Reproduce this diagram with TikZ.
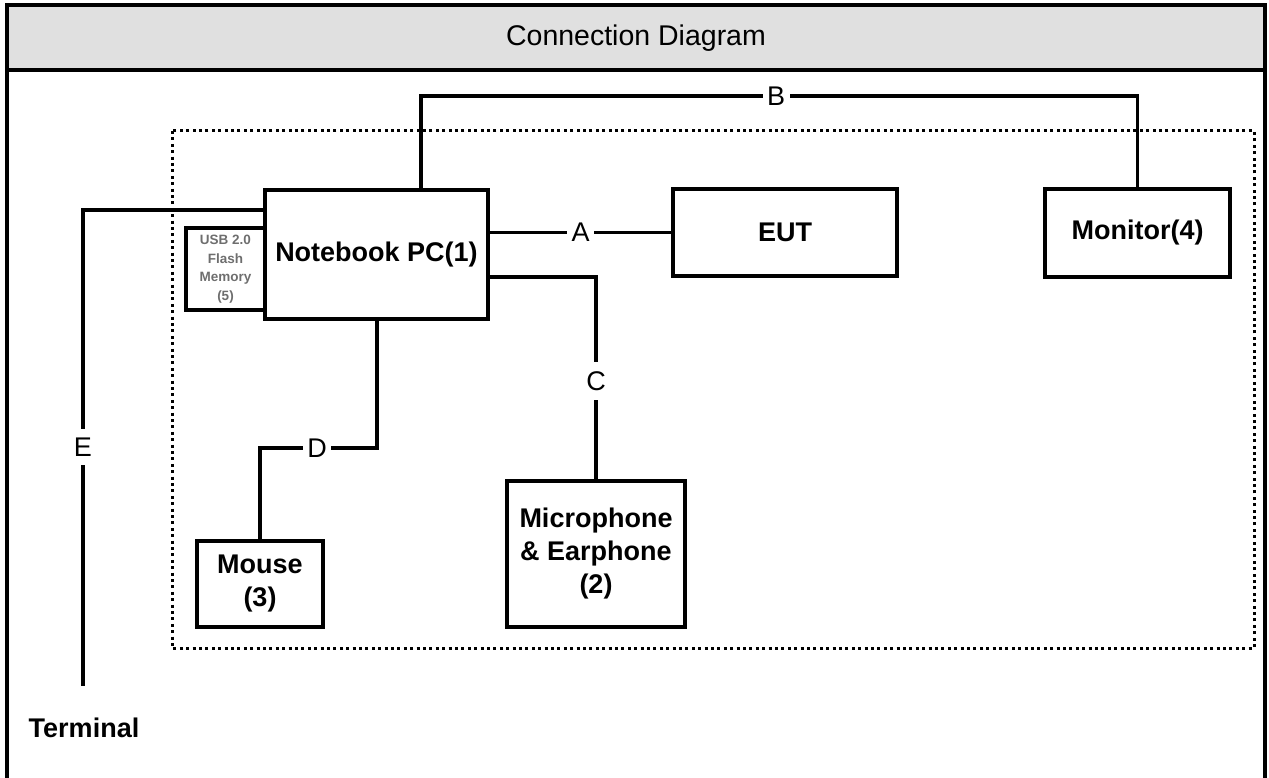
\documentclass[tikz,border=0pt]{standalone}
\usepackage{fontspec}
\setmainfont{Liberation Sans}
\definecolor{headgray}{HTML}{E0E0E0}
\definecolor{usbgray}{HTML}{6E6E6E}
\begin{document}
\begin{tikzpicture}[x=1pt,y=-1pt,
  devbox/.style={draw, line width=3.3pt, inner sep=0pt, align=center,
    font=\fontsize{27}{33}\selectfont\bfseries},
  wire/.style={line width=3.2pt},
  lbl/.style={fill=white, inner xsep=4.5pt, inner ysep=2pt,
    font=\fontsize{27}{30}\selectfont},
  framel/.style={line width=3.2pt}
]
\useasboundingbox (0,0) rectangle (1269,778);
\clip (0,0) rectangle (1269,778);
% frame and header
\fill[headgray] (7,5) rectangle (1265,70);
\draw[framel] (7,800) -- (7,5) -- (1265,5) -- (1265,800);
\draw[framel] (7,70) -- (1265,70);
\node[font=\fontsize{28.5}{32}\selectfont] (title) at (636,38) {Connection Diagram};
% dotted boundary
\draw[line width=3pt, dash pattern=on 3pt off 3.4pt] (172,131) rectangle (1254,648);
% devices
\node[devbox, minimum width=223pt, minimum height=129pt] (nb) at (376.5,254.5) {Notebook PC(1)};
\node[devbox, minimum width=79pt, minimum height=82pt, text=usbgray,
  font=\fontsize{13.5}{18.5}\selectfont\bfseries] (usb) at (225.5,269) {USB 2.0\\Flash\\Memory\\(5)};
\node[devbox, minimum width=224pt, minimum height=87pt] (eut) at (785,232.5) {EUT};
\node[devbox, minimum width=185pt, minimum height=88pt] (mon) at (1137.5,233) {Monitor(4)};
\node[devbox, minimum width=178pt, minimum height=146pt] (mic) at (596,554) {Microphone\\\& Earphone\\(2)};
\node[devbox, minimum width=126pt, minimum height=86pt] (mouse) at (260,584) {Mouse\\(3)};
\node[font=\fontsize{27}{30}\selectfont\bfseries] (term) at (84,728) {Terminal};
% helper coordinates
\coordinate (b1) at (421,96);
\coordinate (b2) at (1137.5,96);
\coordinate (c1) at (596,277);
\coordinate (d1) at (377,448);
\coordinate (d2) at (260,448);
\coordinate (e1) at (83,210);
\coordinate (e2) at (83,686);
% connectors
\draw[wire] (nb.east |- eut.west) -- (eut.west);
\draw[wire] (nb.north -| b1) -- (b1) -- (b2) -- (mon.north);
\draw[wire] (nb.east |- c1) -- (c1) -- (mic.north);
\draw[wire] (nb.south -| d1) -- (d1) -- (d2) -- (mouse.north);
\draw[wire] (nb.west |- e1) -- (e1) -- (e2);
% labels
\node[lbl] (la) at (580.5,232.5) {A};
\node[lbl] (lb) at (776,96) {B};
\node[lbl, inner ysep=9pt] (lc) at (596,381) {C};
\node[lbl] (ld) at (317,448) {D};
\node[lbl, inner ysep=9pt] (le) at (83,447) {E};
\end{tikzpicture}
\end{document}
